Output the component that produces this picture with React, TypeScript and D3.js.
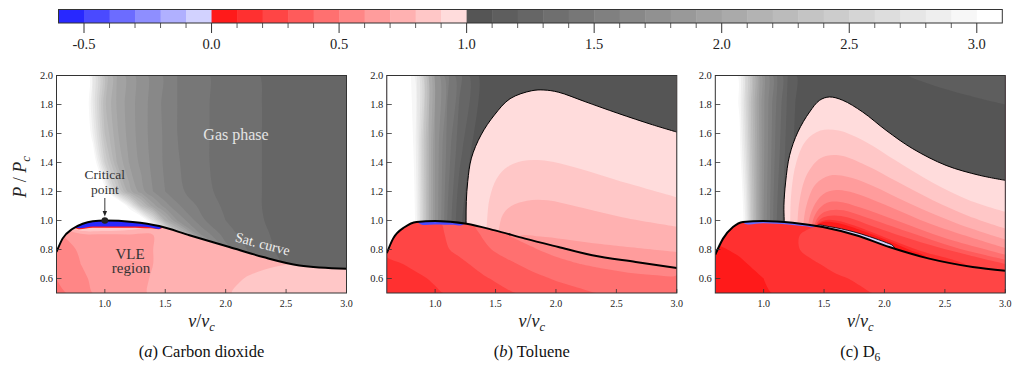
import React from "react";
import * as d3 from "d3";

const W = 1014;
const H = 367;
const FONT = "'Liberation Serif', 'DejaVu Serif', 'Times New Roman', serif";

// ---------- axes ----------
const X_DOMAIN = [0.6, 3.0];
const Y_DOMAIN = [0.5, 2.0];
const X_TICKS = [1.0, 1.5, 2.0, 2.5, 3.0];
const Y_TICKS = [0.6, 0.8, 1.0, 1.2, 1.4, 1.6, 1.8, 2.0];
const CBAR_DOMAIN = [-0.6, 3.1];
const CBAR_MAJOR = [-0.5, 0.0, 0.5, 1.0, 1.5, 2.0, 2.5, 3.0];

// contour levels (lower edge of each colour cell): -0.6 ... 3.0 step 0.1
const LEVELS = d3.range(-6, 31).map((i) => i / 10);

// ---------- colour map: 6 blue, 10 red, 21 grey cells ----------
const blueCells = d3.range(6).map((i) => d3.rgb(40 + i * 34, 40 + i * 34, 255).formatHex());
const redCells = d3.range(10).map((i) => {
  const v = Math.round(26 + i * 21.6);
  return d3.rgb(255, v, v).formatHex();
});
const greyCells = d3.range(21).map((i) => {
  const v = Math.round(85 + i * 8.5);
  return d3.rgb(v, v, v).formatHex();
});
const cellColors = [...blueCells, ...redCells, ...greyCells];
const colorScale = d3
  .scaleThreshold<number, string>()
  .domain(d3.range(-5, 31).map((i) => i / 10))
  .range(cellColors);

// ---------- saturation curves (v/vc, P/Pc) ----------
const co2Sat = [
  [0.6, 0.783], [0.65, 0.875], [0.734, 0.943], [0.817, 0.978], [0.9, 0.995], [1.0, 1.0],
  [1.23, 0.99], [1.45, 0.962], [1.7, 0.898], [2.03, 0.817], [2.31, 0.748], [2.61, 0.69], [3.0, 0.667],
];
const tolSat = [
  [0.6, 0.775], [0.652, 0.875], [0.749, 0.955], [0.846, 0.99], [1.0, 0.997], [1.26, 0.978],
  [1.495, 0.932], [1.744, 0.875], [2.02, 0.817], [2.3, 0.76], [2.66, 0.714], [3.0, 0.672],
];
const d6Sat = [
  [0.6, 0.765], [0.664, 0.875], [0.746, 0.955], [0.829, 0.99], [0.995, 0.997], [1.24, 0.985],
  [1.49, 0.955], [1.765, 0.898], [2.04, 0.817], [2.37, 0.737], [2.73, 0.68], [3.0, 0.654],
];

// ---------- gas-phase Γ grids (rows by increasing P/Pc) ----------
const co2GasX = [0.6, 0.7, 0.8, 0.9, 1.0, 1.1, 1.2, 1.3, 1.4, 1.5, 1.6, 1.8, 2.0, 2.2, 2.4, 2.6, 3.0];
const co2GasY = [0.6, 0.8, 0.9, 1.0, 1.1, 1.2, 1.4, 1.6, 1.8, 2.0];
const co2Gas = [
  [3.5, 3.5, 3.5, 3.5, 3.5, 3.5, 3.5, 3.5, 3.5, 3.5, 3.3, 2.4, 1.7, 1.45, 1.33, 1.27, 1.25],
  [3.5, 3.5, 3.5, 3.5, 3.5, 3.5, 3.5, 3.5, 3.5, 3.5, 3.2, 2.2, 1.55, 1.38, 1.3, 1.26, 1.25],
  [3.5, 3.5, 3.5, 3.5, 3.5, 3.5, 3.5, 3.5, 3.4, 3.0, 2.4, 1.7, 1.45, 1.35, 1.29, 1.26, 1.25],
  [3.5, 3.5, 3.5, 3.5, 3.5, 3.5, 3.5, 3.3, 2.7, 2.1, 1.8, 1.52, 1.4, 1.33, 1.28, 1.26, 1.25],
  [3.5, 3.5, 3.5, 3.5, 3.5, 3.5, 2.9, 2.3, 1.95, 1.75, 1.62, 1.47, 1.38, 1.32, 1.28, 1.26, 1.25],
  [3.5, 3.5, 3.5, 3.5, 3.1, 2.45, 2.05, 1.85, 1.7, 1.6, 1.53, 1.43, 1.37, 1.32, 1.28, 1.26, 1.25],
  [3.5, 3.5, 3.5, 3.2, 2.5, 2.1, 1.9, 1.77, 1.67, 1.58, 1.51, 1.42, 1.36, 1.32, 1.28, 1.26, 1.25],
  [3.5, 3.5, 3.5, 2.9, 2.3, 2.02, 1.86, 1.75, 1.66, 1.58, 1.5, 1.42, 1.36, 1.32, 1.28, 1.26, 1.25],
  [3.5, 3.5, 3.4, 2.8, 2.22, 1.99, 1.85, 1.75, 1.66, 1.57, 1.5, 1.42, 1.36, 1.32, 1.28, 1.26, 1.25],
  [3.5, 3.5, 3.4, 2.8, 2.25, 2.0, 1.85, 1.75, 1.66, 1.58, 1.5, 1.42, 1.36, 1.32, 1.27, 1.25, 1.25],
];

const tolGasX = [0.6, 0.7, 0.8, 0.85, 0.9, 0.95, 1.0, 1.1, 1.2, 1.3, 1.4, 1.6, 2.0, 2.4, 2.8, 3.0];
const tolGasY = [0.5, 1.0, 1.5, 2.0];
const tolGas = [
  [3.2, 3.2, 3.2, 2.9, 2.5, 2.1, 1.8, 1.4, 1.12, 1.04, 1.04, 1.04, 1.04, 1.04, 1.04, 1.04],
  [3.2, 3.2, 3.2, 2.9, 2.5, 2.1, 1.8, 1.4, 1.12, 1.04, 1.04, 1.04, 1.04, 1.04, 1.04, 1.04],
  [3.2, 3.2, 3.1, 2.85, 2.45, 2.1, 1.8, 1.47, 1.24, 1.1, 1.04, 1.04, 1.04, 1.04, 1.04, 1.04],
  [3.2, 3.2, 3.0, 2.8, 2.45, 2.1, 1.8, 1.52, 1.33, 1.17, 1.05, 1.04, 1.04, 1.04, 1.04, 1.04],
];

const d6GasX = [0.6, 0.7, 0.8, 0.85, 0.9, 0.95, 1.0, 1.1, 1.2, 1.3, 1.4, 1.6, 2.0, 2.4, 2.8, 3.0];
const d6GasY = [0.5, 1.0, 1.5, 1.8, 2.0];
const d6Gas = [
  [3.2, 3.2, 3.2, 2.9, 2.4, 2.0, 1.7, 1.32, 1.1, 1.04, 1.04, 1.04, 1.04, 1.04, 1.04, 1.04],
  [3.2, 3.2, 3.2, 2.9, 2.4, 2.0, 1.7, 1.32, 1.1, 1.04, 1.04, 1.04, 1.04, 1.04, 1.04, 1.04],
  [3.2, 3.2, 3.05, 2.7, 2.3, 1.98, 1.72, 1.38, 1.15, 1.04, 1.04, 1.04, 1.04, 1.04, 1.04, 1.04],
  [3.2, 3.2, 2.98, 2.62, 2.26, 1.95, 1.72, 1.41, 1.18, 1.05, 1.04, 1.04, 1.04, 1.06, 1.09, 1.1],
  [3.2, 3.2, 2.95, 2.6, 2.25, 1.95, 1.72, 1.42, 1.2, 1.06, 1.04, 1.04, 1.08, 1.12, 1.14, 1.15],
];

// ---------- two-phase (VLE) Γ grids ----------
const vleX = [0.6, 0.8, 1.0, 1.2, 1.4, 1.6, 1.8, 2.0, 2.2, 2.4, 2.6, 2.8, 3.0];
const vleY = [0.5, 0.6, 0.7, 0.8, 0.9, 0.95, 1.0];
const co2Vle = [
  [0.45, 0.57, 0.63, 0.67, 0.71, 0.74, 0.77, 0.795, 0.815, 0.83, 0.835, 0.835, 0.83],
  [0.5, 0.585, 0.635, 0.675, 0.705, 0.74, 0.765, 0.785, 0.805, 0.82, 0.825, 0.825, 0.82],
  [0.54, 0.6, 0.645, 0.68, 0.7, 0.735, 0.76, 0.775, 0.785, 0.795, 0.802, 0.8, 0.79],
  [0.56, 0.61, 0.655, 0.685, 0.7, 0.73, 0.75, 0.76, 0.77, 0.77, 0.77, 0.77, 0.77],
  [0.58, 0.66, 0.68, 0.69, 0.7, 0.72, 0.74, 0.75, 0.75, 0.75, 0.75, 0.75, 0.75],
  [0.6, 0.9, 0.9, 0.85, 0.76, 0.74, 0.75, 0.75, 0.75, 0.75, 0.75, 0.75, 0.75],
  [0.62, 0.92, 0.92, 0.88, 0.8, 0.76, 0.75, 0.75, 0.75, 0.75, 0.75, 0.75, 0.75],
];
const tolVle = [
  [0.1, 0.15, 0.19, 0.22, 0.26, 0.29, 0.32, 0.35, 0.38, 0.41, 0.43, 0.44, 0.45],
  [0.14, 0.18, 0.21, 0.25, 0.29, 0.33, 0.37, 0.41, 0.44, 0.46, 0.48, 0.49, 0.49],
  [0.18, 0.21, 0.24, 0.28, 0.33, 0.38, 0.43, 0.47, 0.5, 0.52, 0.53, 0.53, 0.53],
  [0.22, 0.24, 0.27, 0.32, 0.38, 0.44, 0.49, 0.53, 0.55, 0.56, 0.56, 0.56, 0.56],
  [0.25, 0.26, 0.28, 0.33, 0.41, 0.5, 0.54, 0.56, 0.58, 0.58, 0.58, 0.58, 0.58],
  [0.26, 0.27, 0.28, 0.34, 0.43, 0.52, 0.56, 0.58, 0.59, 0.59, 0.59, 0.59, 0.59],
  [0.27, 0.27, 0.28, 0.35, 0.45, 0.53, 0.57, 0.59, 0.6, 0.6, 0.6, 0.6, 0.6],
];
const d6Vle = [
  [0.03, 0.06, 0.09, 0.12, 0.14, 0.17, 0.19, 0.21, 0.22, 0.22, 0.22, 0.22, 0.22],
  [0.05, 0.08, 0.1, 0.13, 0.16, 0.19, 0.21, 0.23, 0.24, 0.25, 0.25, 0.25, 0.25],
  [0.07, 0.09, 0.12, 0.15, 0.19, 0.22, 0.24, 0.26, 0.27, 0.28, 0.29, 0.29, 0.29],
  [0.09, 0.11, 0.14, 0.18, 0.22, 0.25, 0.27, 0.29, 0.3, 0.31, 0.32, 0.33, 0.34],
  [0.11, 0.13, 0.15, 0.18, 0.22, 0.25, 0.27, 0.29, 0.3, 0.32, 0.33, 0.34, 0.35],
  [0.11, 0.12, 0.14, 0.17, 0.2, 0.23, 0.26, 0.28, 0.3, 0.32, 0.33, 0.34, 0.35],
  [0.12, 0.13, 0.14, 0.15, 0.18, 0.21, 0.24, 0.27, 0.3, 0.32, 0.34, 0.35, 0.36],
];

// ---------- Γ < 1 contours inside the gas phase ----------
const tolG10 = [[1.256, 0.85], [1.256, 1.0], [1.258, 1.13], [1.27, 1.27], [1.3, 1.43], [1.38, 1.59], [1.49, 1.727], [1.62, 1.84], [1.8, 1.895], [1.9, 1.9], [2.02, 1.885], [2.24, 1.82], [2.51, 1.74], [2.8, 1.66], [3.0, 1.61]];
const tolG09 = [[1.42, 0.85], [1.43, 1.0], [1.45, 1.15], [1.51, 1.29], [1.6, 1.37], [1.72, 1.41], [1.88, 1.415], [2.1, 1.38], [2.6, 1.255], [3.0, 1.16]];
const tolG08 = [[1.52, 0.85], [1.53, 0.95], [1.56, 1.04], [1.63, 1.1], [1.76, 1.137], [1.93, 1.14], [2.18, 1.095], [2.59, 1.015], [3.0, 0.957]];
const tolG07 = [[1.66, 0.8], [1.7, 0.89], [1.87, 0.889], [2.31, 0.843], [3.0, 0.783]];

const d6G10 = [[1.174, 0.85], [1.17, 1.0], [1.168, 1.105], [1.182, 1.265], [1.215, 1.45], [1.283, 1.61], [1.38, 1.748], [1.463, 1.829], [1.545, 1.852], [1.655, 1.829], [1.82, 1.748], [2.013, 1.622], [2.234, 1.495], [2.51, 1.38], [2.785, 1.312], [3.0, 1.277]];
const d6G09 = [[1.22, 0.85], [1.22, 0.99], [1.23, 1.2], [1.27, 1.4], [1.35, 1.55], [1.47, 1.62], [1.62, 1.62], [1.85, 1.54], [2.1, 1.41], [2.4, 1.26], [2.7, 1.14], [3.0, 1.06]];
const d6G08 = [[1.28, 0.85], [1.28, 0.985], [1.3, 1.15], [1.36, 1.32], [1.47, 1.43], [1.62, 1.45], [1.85, 1.38], [2.1, 1.27], [2.4, 1.14], [2.7, 1.03], [3.0, 0.945]];
const d6G07 = [[1.33, 0.85], [1.33, 0.98], [1.36, 1.12], [1.43, 1.25], [1.55, 1.31], [1.7, 1.3], [1.9, 1.24], [2.2, 1.12], [2.6, 0.98], [3.0, 0.87]];
const d6G06 = [[1.37, 0.85], [1.37, 0.975], [1.41, 1.09], [1.49, 1.18], [1.6, 1.21], [1.75, 1.19], [2.0, 1.11], [2.4, 0.97], [3.0, 0.81]];
const d6G05 = [[1.4, 0.85], [1.4, 0.97], [1.44, 1.06], [1.52, 1.12], [1.62, 1.13], [1.8, 1.09], [2.1, 1.0], [2.5, 0.88], [3.0, 0.765]];
const d6G04 = [[1.42, 0.85], [1.42, 0.968], [1.47, 1.04], [1.55, 1.07], [1.66, 1.07], [1.85, 1.02], [2.2, 0.92], [2.6, 0.81], [3.0, 0.73]];
const d6G03 = [[1.43, 0.85], [1.43, 0.966], [1.49, 1.02], [1.58, 1.035], [1.7, 1.02], [1.9, 0.96], [2.3, 0.85], [2.7, 0.76], [3.0, 0.7]];
const d6G02 = [[1.44, 0.85], [1.44, 0.965], [1.5, 1.0], [1.6, 1.0], [1.75, 0.965], [2.0, 0.885], [2.3, 0.79], [2.6, 0.72], [2.7, 0.68], [2.75, 0.6]];
const d6G01 = [[1.44, 0.85], [1.44, 0.965], [1.5, 0.99], [1.6, 0.985], [1.8, 0.935], [2.0, 0.87], [2.2, 0.8], [2.35, 0.745], [2.4, 0.65]];
const d6G00 = [[1.43, 0.85], [1.438, 0.962], [1.548, 0.957], [1.74, 0.923], [1.878, 0.888], [2.016, 0.847], [2.07, 0.826], [2.12, 0.75]];

// ---------- Γ < 0 pockets just under the critical point ----------
const co2Zero = [[0.72, 1.05], [0.76, 0.953], [0.9, 0.958], [1.2, 0.958], [1.37, 0.954], [1.46, 0.945], [1.5, 1.05]];
const co2Tenth = [[0.72, 1.05], [0.76, 0.946], [0.9, 0.95], [1.2, 0.95], [1.38, 0.946], [1.47, 0.946], [1.52, 1.05]];
const tolZero = [[0.83, 1.05], [0.87, 0.978], [1.0, 0.973], [1.15, 0.971], [1.23, 0.97], [1.27, 1.05]];
const d6Zero = [[0.8, 1.05], [0.84, 0.98], [1.0, 0.981], [1.2, 0.973], [1.35, 0.96], [1.42, 0.957], [1.46, 1.05]];

const PANELS = [
  {
    id: "co2", sat: co2Sat, gasX: co2GasX, gasY: co2GasY, gas: co2Gas, vle: co2Vle,
    gasBands: [],
    domePockets: [{ level: 0.1, pts: co2Tenth }, { level: -0.5, pts: co2Zero }],
    caption: "co2",
  },
  {
    id: "tol", sat: tolSat, gasX: tolGasX, gasY: tolGasY, gas: tolGas, vle: tolVle,
    gasBands: [
      { level: 1.0, pts: tolG10 }, { level: 0.9, pts: tolG09 },
      { level: 0.8, pts: tolG08 }, { level: 0.7, pts: tolG07 },
    ],
    domePockets: [{ level: -0.4, pts: tolZero }],
    caption: "tol",
  },
  {
    id: "d6", sat: d6Sat, gasX: d6GasX, gasY: d6GasY, gas: d6Gas, vle: d6Vle,
    gasBands: [
      { level: 1.0, pts: d6G10 }, { level: 0.9, pts: d6G09 }, { level: 0.8, pts: d6G08 },
      { level: 0.7, pts: d6G07 }, { level: 0.6, pts: d6G06 }, { level: 0.5, pts: d6G05 },
      { level: 0.4, pts: d6G04 }, { level: 0.3, pts: d6G03 }, { level: 0.2, pts: d6G02 },
      { level: 0.1, pts: d6G01 }, { level: 0.0, pts: d6G00 },
    ],
    domePockets: [{ level: -0.3, pts: d6Zero }],
    caption: "d6",
  },
];

// ---------- layout ----------
const PANEL_LEFTS = [56.5, 386.8, 715.3];
const PLOT_W = 290;
const PLOT_TOP = 75.5;
const PLOT_BOTTOM = 293;
const CBAR = { x0: 58.5, x1: 1002.3, y0: 9.5, y1: 23 };
const AXIS_COLOR = "#333";

const ringLine = d3.line().curve(d3.curveCatmullRomClosed.alpha(0.5));

// filled contours of a (possibly non-uniform) grid, mapped to pixels and smoothed
function contourPaths(xs, ys, rows, sx, sy) {
  const n = xs.length;
  const m = ys.length;
  const values = rows.flat();
  const ix = d3.scaleLinear().domain(d3.range(n)).range(xs).clamp(true);
  const iy = d3.scaleLinear().domain(d3.range(m)).range(ys).clamp(true);
  const toPx = ([gx, gy]) => [sx(ix(gx - 0.5)), sy(iy(gy - 0.5))];
  return d3
    .contours()
    .size([n, m])
    .thresholds(LEVELS)(values)
    .map((c) => {
      const d = c.coordinates
        .flatMap((poly) => poly.map((ring) => ringLine(ring.slice(0, -1).map(toPx))))
        .join("");
      return { value: c.value, d };
    })
    .filter((c) => c.d);
}

const bandLine = d3.line().curve(d3.curveCatmullRom.alpha(0.5));

function Panel({ cfg, left, index }) {
  const sx = d3.scaleLinear().domain(X_DOMAIN).range([left, left + PLOT_W]);
  const sy = d3.scaleLinear().domain(Y_DOMAIN).range([PLOT_BOTTOM, PLOT_TOP]);
  const toPx = (pts) => pts.map(([x, y]) => [sx(x), sy(y)]);

  const satLine = d3
    .line()
    .x((d) => sx(d[0]))
    .y((d) => sy(d[1]))
    .curve(d3.curveMonotoneX);
  const satD = satLine(cfg.sat);
  const gasClipD = `${satD}L${sx(3.0) + 2},${sy(2.0) - 2}L${sx(0.6) - 2},${sy(2.0) - 2}Z`;
  const vleClipD = `${satD}L${sx(3.0) + 2},${sy(0.5) + 2}L${sx(0.6) - 2},${sy(0.5) + 2}Z`;

  const gasContours = contourPaths(cfg.gasX, cfg.gasY, cfg.gas, sx, sy);
  const vleContours = contourPaths(vleX, vleY, cfg.vle, sx, sy);

  const bandArea = (pts) => {
    const P = toPx(pts);
    const first = P[0];
    const last = P[P.length - 1];
    const bottom = sy(0.45);
    return `${bandLine(P)}L${last[0]},${bottom}L${first[0]},${bottom}Z`;
  };

  const id = cfg.id;
  const cx = left + PLOT_W / 2;

  return (
    <g>
      <defs>
        <clipPath id={`plot-${id}`}>
          <rect x={left} y={PLOT_TOP} width={PLOT_W} height={PLOT_BOTTOM - PLOT_TOP} />
        </clipPath>
        <clipPath id={`gas-${id}`}>
          <path d={gasClipD} />
        </clipPath>
        <clipPath id={`vle-${id}`}>
          <path d={vleClipD} />
        </clipPath>
      </defs>

      <g clipPath={`url(#plot-${id})`}>
        {/* two-phase region */}
        <g clipPath={`url(#vle-${id})`}>
          {vleContours.map((c) => (
            <path key={`v${c.value}`} d={c.d} fill={colorScale(c.value + 0.05)} />
          ))}
          {cfg.domePockets.map((b, i) => (
            <path key={`p${i}`} d={`${bandLine(toPx(b.pts))}Z`} fill={colorScale(b.level - 0.05)} />
          ))}
        </g>

        {/* single-phase vapour region */}
        <g clipPath={`url(#gas-${id})`}>
          {gasContours.map((c) => (
            <path key={`g${c.value}`} d={c.d} fill={colorScale(c.value + 0.05)} />
          ))}
          {cfg.gasBands.map((b) => (
            <path key={`b${b.level}`} d={bandArea(b.pts)} fill={colorScale(b.level - 0.05)} />
          ))}
          {cfg.gasBands
            .filter((b) => b.level === 1.0 || b.level === 0.0)
            .map((b) => (
              <path
                key={`s${b.level}`}
                d={bandLine(toPx(b.pts))}
                fill="none"
                stroke="#000"
                strokeWidth={b.level === 1.0 ? 1 : 0.8}
              />
            ))}
        </g>

        <path d={satD} fill="none" stroke="#000" strokeWidth={2} />
      </g>

      {/* frame and ticks */}
      <rect
        x={left}
        y={PLOT_TOP}
        width={PLOT_W}
        height={PLOT_BOTTOM - PLOT_TOP}
        fill="none"
        stroke={AXIS_COLOR}
        strokeWidth={1}
      />
      {X_TICKS.map((t) => (
        <g key={`xt${t}`}>
          <line x1={sx(t)} x2={sx(t)} y1={PLOT_BOTTOM} y2={PLOT_BOTTOM - 4} stroke={AXIS_COLOR} strokeWidth={0.8} />
          <text x={sx(t)} y={306.5} fontSize={10} textAnchor="middle" fill="#222">
            {t.toFixed(1)}
          </text>
        </g>
      ))}
      {Y_TICKS.map((t) => (
        <g key={`yt${t}`}>
          <line x1={left} x2={left + 5} y1={sy(t)} y2={sy(t)} stroke={AXIS_COLOR} strokeWidth={0.8} />
          <text x={left - 3.5} y={sy(t) + 3.5} fontSize={10.5} textAnchor="end" fill="#222">
            {t.toFixed(1)}
          </text>
        </g>
      ))}

      {/* axis title */}
      <text x={cx} y={327} fontSize={18} textAnchor="middle" fill="#222">
        <tspan fontStyle="italic">v</tspan>
        <tspan>/</tspan>
        <tspan fontStyle="italic">v</tspan>
        <tspan fontStyle="italic" fontSize={12.5} dy={4}>c</tspan>
      </text>
      {index === 0 && (
        <text transform="translate(26,177) rotate(-90)" fontSize={18} textAnchor="middle" fill="#222">
          <tspan fontStyle="italic">P</tspan>
          <tspan> / </tspan>
          <tspan fontStyle="italic">P</tspan>
          <tspan fontStyle="italic" fontSize={12.5} dy={4}>c</tspan>
        </text>
      )}

      {/* caption */}
      <text x={cx} y={357} fontSize={16.5} textAnchor="middle" fill="#111">
        {cfg.caption === "co2" && (
          <>
            <tspan>(</tspan>
            <tspan fontStyle="italic">a</tspan>
            <tspan>) Carbon dioxide</tspan>
          </>
        )}
        {cfg.caption === "tol" && (
          <>
            <tspan>(</tspan>
            <tspan fontStyle="italic">b</tspan>
            <tspan>) Toluene</tspan>
          </>
        )}
        {cfg.caption === "d6" && (
          <>
            <tspan>(c) D</tspan>
            <tspan fontSize={11.5} dy={4}>6</tspan>
          </>
        )}
      </text>

      {index === 0 && (
        <g>
          <text x={236} y={139.5} fontSize={16} textAnchor="middle" fill="#e4e4e4">
            Gas phase
          </text>
          <text x={sx(1.0)} y={179} fontSize={13.5} textAnchor="middle" fill="#333">
            Critical
          </text>
          <text x={sx(1.0)} y={194} fontSize={13.5} textAnchor="middle" fill="#333">
            point
          </text>
          <line x1={sx(1.0)} x2={sx(1.0)} y1={198} y2={212} stroke="#222" strokeWidth={0.9} />
          <path
            d={`M${sx(1.0) - 2.2},${211}L${sx(1.0) + 2.2},${211}L${sx(1.0)},${216.5}Z`}
            fill="#222"
          />
          <circle cx={sx(1.0)} cy={sy(1.0)} r={3.3} fill="#222" />
          <text x={130} y={259} fontSize={15} textAnchor="middle" fill="#333">
            VLE
          </text>
          <text x={131} y={273} fontSize={15} textAnchor="middle" fill="#333">
            region
          </text>
          <text
            transform="translate(262.7,243.7) rotate(14.7)"
            fontSize={14}
            textAnchor="middle"
            dy="0.35em"
            fill="#f0f0f0"
          >
            Sat. curve
          </text>
        </g>
      )}
    </g>
  );
}

function Colorbar() {
  const cx = d3.scaleLinear().domain(CBAR_DOMAIN).range([CBAR.x0, CBAR.x1]);
  const minor = d3.range(-5, 31).map((i) => i / 10);
  const isMajor = (v) => CBAR_MAJOR.some((m) => Math.abs(m - v) < 1e-9);
  return (
    <g>
      {LEVELS.map((lo, i) => (
        <rect
          key={`c${i}`}
          x={cx(lo)}
          y={CBAR.y0}
          width={cx(lo + 0.1) - cx(lo) + (i < LEVELS.length - 1 ? 0.5 : 0)}
          height={CBAR.y1 - CBAR.y0}
          fill={cellColors[i]}
        />
      ))}
      <rect
        x={CBAR.x0}
        y={CBAR.y0}
        width={CBAR.x1 - CBAR.x0}
        height={CBAR.y1 - CBAR.y0}
        fill="none"
        stroke={AXIS_COLOR}
        strokeWidth={1}
      />
      {minor.map((v) => (
        <line
          key={`t${v}`}
          x1={cx(v)}
          x2={cx(v)}
          y1={CBAR.y1}
          y2={CBAR.y1 + (isMajor(v) ? 10 : 5)}
          stroke={AXIS_COLOR}
          strokeWidth={isMajor(v) ? 1 : 0.8}
        />
      ))}
      {CBAR_MAJOR.map((v) => (
        <text key={`l${v}`} x={cx(v)} y={49.3} fontSize={14.5} textAnchor="middle" fill="#222">
          {v.toFixed(1)}
        </text>
      ))}
    </g>
  );
}

export default function App() {
  return (
    <svg
      width={W}
      height={H}
      viewBox={`0 0 ${W} ${H}`}
      style={{ position: "absolute", left: 0, top: 0, background: "#fff", fontFamily: FONT }}
    >
      <rect width={W} height={H} fill="#fff" />
      <Colorbar />
      {PANELS.map((p, i) => (
        <Panel key={p.id} cfg={p} left={PANEL_LEFTS[i]} index={i} />
      ))}
    </svg>
  );
}
